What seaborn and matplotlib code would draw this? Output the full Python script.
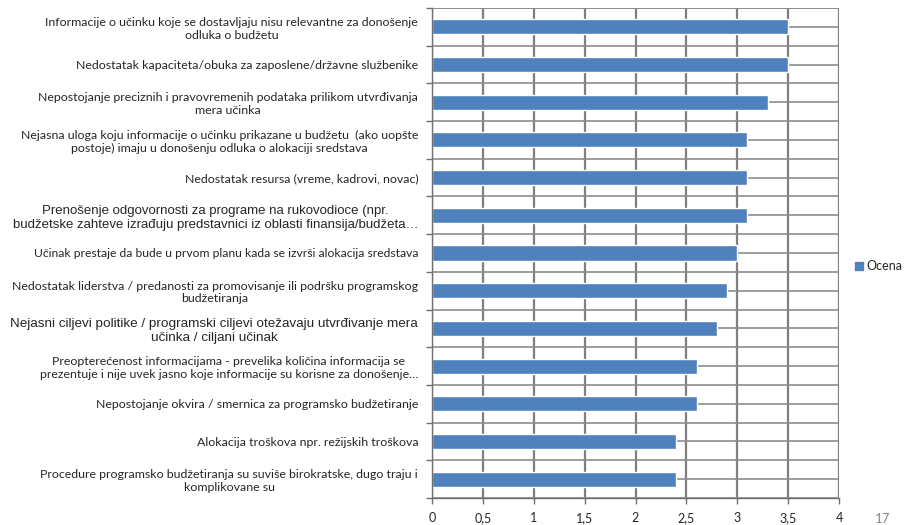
import numpy as np
import pandas as pd
import matplotlib
matplotlib.use("Agg")
import matplotlib.pyplot as plt
import seaborn as sns

# Podaci
labels = [
    "Informacije o učinku koje se dostavljaju nisu relevantne za donošenje\nodluka o budžetu",
    "Nedostatak kapaciteta/obuka za zaposlene/državne službenike",
    "Nepostojanje preciznih i pravovremenih podataka prilikom utvrđivanja\nmera učinka",
    "Nejasna uloga koju informacije o učinku prikazane u budžetu  (ako uopšte\npostoje) imaju u donošenju odluka o alokaciji sredstava",
    "Nedostatak resursa (vreme, kadrovi, novac)",
    "Prenošenje odgovornosti za programe na rukovodioce (npr.\nbudžetske zahteve izrađuju predstavnici iz oblasti finansija/budžeta…",
    "Učinak prestaje da bude u prvom planu kada se izvrši alokacija sredstava",
    "Nedostatak liderstva / predanosti za promovisanje ili podršku programskog\nbudžetiranja",
    "Nejasni ciljevi politike / programski ciljevi otežavaju utvrđivanje mera\nučinka / ciljani učinak",
    "Preopterećenost informacijama - prevelika količina informacija se\nprezentuje i nije uvek jasno koje informacije su korisne za donošenje…",
    "Nepostojanje okvira / smernica za programsko budžetiranje",
    "Alokacija troškova npr. režijskih troškova",
    "Procedure programsko budžetiranja su suviše birokratske, dugo traju i\nkomplikovane su",
]
ocena = [3.5, 3.5, 3.3, 3.1, 3.1, 3.1, 3.0, 2.9, 2.8, 2.6, 2.6, 2.4, 2.4]
arial_sizes = {5: 9.5, 8: 9.7}
xticks = [0, 0.5, 1, 1.5, 2, 2.5, 3, 3.5, 4]
xtick_labels = ["0", "0,5", "1", "1,5", "2", "2,5", "3", "3,5", "4"]

sns.set_style("white")
plt.rcParams["font.family"] = ["Lato", "DejaVu Sans"]

df = pd.DataFrame({"label": labels, "Ocena": ocena})

fig = plt.figure(figsize=(9.08, 5.25), dpi=100)
ax = fig.add_axes([0.4758, 0.0514, 0.4482, 0.9334])

sns.barplot(data=df, x="Ocena", y="label", color="#4F81BD", width=0.4,
            saturation=1, ax=ax, zorder=2)

n = len(labels)
ax.set_xlim(0, 4)
ax.set_ylim(n - 0.5, -0.5)
ax.set_xticks(xticks)
ax.set_xticklabels(xtick_labels, fontsize=9)
ax.set_yticks(range(n))
ax.set_yticklabels(labels, fontsize=8.9, multialignment="center")
for i, t in enumerate(ax.get_yticklabels()):
    if i in arial_sizes:
        t.set_fontfamily(["Liberation Sans", "DejaVu Sans"])
        t.set_fontsize(arial_sizes[i])
    if i == 6:
        t.set_fontsize(8.75)
ax.set_yticks(np.arange(-0.5, n, 1), minor=True)

# mreza
ax.set_axisbelow(True)
ax.xaxis.grid(True, color="#7f7f7f", lw=1.6)
ax.yaxis.grid(True, which="both", color="#8c8c8c", lw=1.2)
ax.axhline(-0.5, color="#8c8c8c", lw=1.2, zorder=1)

ax.tick_params(axis="y", which="major", length=0, pad=10)
ax.tick_params(axis="y", which="minor", length=4, color="#707070", width=1, left=True)
ax.tick_params(axis="x", length=4, color="#707070", width=1, bottom=True, pad=6)
ax.set_xlabel("")
ax.set_ylabel("")
for s in ["top", "right"]:
    ax.spines[s].set_visible(False)
for s in ["left", "bottom"]:
    ax.spines[s].set_color("#707070")
    ax.spines[s].set_linewidth(1)

fig.legend(handles=[plt.Rectangle((0, 0), 1, 1, color="#4F81BD")], labels=["Ocena"],
           loc="center left", bbox_to_anchor=(0.942, 0.493), frameon=False,
           fontsize=9, handlelength=0.6, handleheight=0.6, handletextpad=0.3,
           borderpad=0, borderaxespad=0)
fig.text(0.963, 0.003, "17", color="#8c8c8c", fontsize=9.5)

fig.savefig("out.png", dpi=100)
